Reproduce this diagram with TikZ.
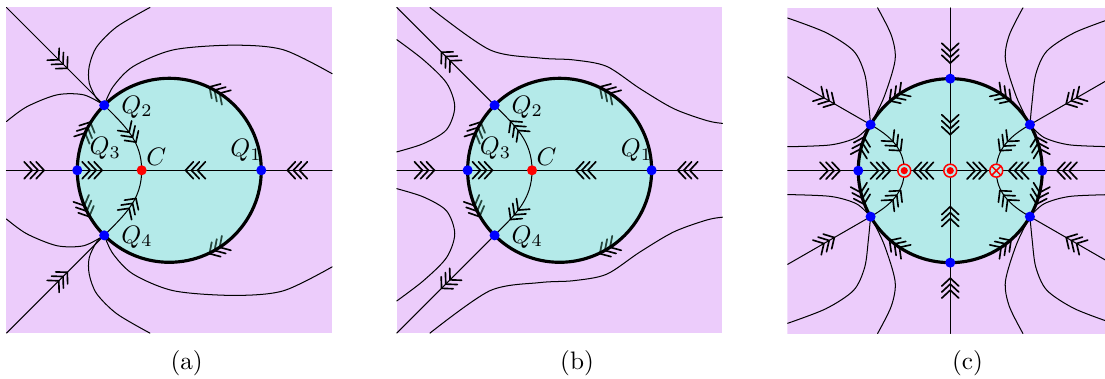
\documentclass[tikz,border=0pt]{standalone}
\usepackage{amsmath,amssymb}
\usepackage{tikz}
\usetikzlibrary{arrows.meta,calc,decorations.markings}

\definecolor{bgpurple}{RGB}{236,204,251}
\definecolor{disccyan}{RGB}{143,254,222}

% three stacked barbs, pointing along the path
\newcommand{\chevs}{%
  \draw[line width=.65pt,line cap=round,line join=miter]
    (0.29mm,1.18mm) -- (1.39mm,0) -- (0.29mm,-1.18mm)
    (-0.54mm,1.18mm) -- (0.56mm,0) -- (-0.54mm,-1.18mm)
    (-1.38mm,1.18mm) -- (-0.28mm,0) -- (-1.38mm,-1.18mm);}

% rim barbs of (a) and (b), seen through the disc
\newcommand{\rimflow}{%
  \path[flow=0.43] (Q1) arc[start angle=0,end angle=135,radius=1];
  \path[flow=0.43] (Q1) arc[start angle=0,end angle=-135,radius=1];
  \path[flow=0.56] (Q3) arc[start angle=180,end angle=135,radius=1];
  \path[flow=0.53] (Q3) arc[start angle=180,end angle=225,radius=1];}

\begin{document}
\begin{tikzpicture}[x=1.28cm,y=1.28cm,line cap=round,line join=round,
    orbit/.style={line width=.4pt},
    rim/.style={line width=1.25pt},
    flow/.style={postaction={decorate,decoration={markings,
      mark=at position #1 with {\chevs}}}},
    disc/.style={fill=disccyan,fill opacity=.6}]
  \useasboundingbox (0,0) rectangle (12.011,4.109);

  % (a): everything outside runs into Q2 and Q4.
  \begin{scope}[shift={(1.840,2.258)}]
    \fill[bgpurple] (-1.77,-1.77) rectangle (1.77,1.77);
    \coordinate (Q1) at (1,0);
    \coordinate (Q2) at (135:1);
    \coordinate (Q3) at (-1,0);
    \coordinate (Q4) at (225:1);
    \coordinate (C) at (-0.3,0);
    \foreach \s in {1,-1} {
      \begin{scope}[yscale=\s]
        \draw[orbit] plot[smooth] coordinates {(-0.21,1.77) (-0.57,1.56)
          (-0.79,1.34) (-0.87,1.13) (-0.87,0.95) (-0.79,0.78) (135:1)};
        \draw[orbit] plot[smooth] coordinates {(1.77,1.05) (1.24,1.31)
          (0.70,1.36) (0.05,1.31) (-0.39,1.13) (-0.61,0.91) (135:1)};
        \draw[orbit] plot[smooth] coordinates {(-1.77,0.53) (-1.55,0.69)
          (-1.22,0.82) (-0.93,0.82) (135:1)};
        \draw[orbit,flow=0.55] (-1.77,1.77) -- (135:1);
      \end{scope}}
    \draw[orbit,flow=0.39] (-1.77,0) -- (Q3);
    \draw[orbit,flow=0.49] (1.77,0) -- (Q1);
    % the rim, its barbs lie under the disc
    \rimflow
    \fill[disc] (0,0) circle (1);
    \begin{scope}[draw opacity=.55]
      \clip (0,0) circle (1);
      \rimflow
    \end{scope}
    \draw[rim] (0,0) circle (1);
    \draw[orbit,flow=0.23] (Q3) -- (C);
    \draw[orbit,flow=0.55] (Q1) -- (C);
    \draw[orbit,flow=0.5] (Q2) to[out=-45,in=90] (C);
    \draw[orbit,flow=0.5] (Q4) to[out=45,in=-90] (C);
    \foreach \p in {Q1,Q2,Q3,Q4} \fill[blue] (\p) circle (0.7mm);
    \fill[red] (C) circle (0.7mm);
    \node (aQ1) at (0.835,0.217) {$Q_1$};
    \node (aQ2) at (-0.351,0.688) {$Q_2$};
    \node (aQ3) at (-0.696,0.239) {$Q_3$};
    \node (aQ4) at (-0.351,-0.725) {$Q_4$};
    \node (aC) at (-0.141,0.141) {$C$};
  \end{scope}
  \node (capa) at (2.029,0.160) {(a)};

  % (b): the diagonals now leave Q2 and Q4.
  \begin{scope}[shift={(6.083,2.258)}]
    \fill[bgpurple] (-1.77,-1.77) rectangle (1.77,1.77);
    \coordinate (Q1) at (1,0);
    \coordinate (Q2) at (135:1);
    \coordinate (Q3) at (-1,0);
    \coordinate (Q4) at (225:1);
    \coordinate (C) at (-0.3,0);
    \foreach \s in {1,-1} {
      \begin{scope}[yscale=\s]
        \draw[orbit] plot[smooth] coordinates {(-1.41,1.77) (-0.76,1.31)
          (-0.21,1.22) (0.15,1.20) (0.51,1.13) (0.87,0.89) (1.24,0.67)
          (1.60,0.54) (1.77,0.51)};
        \draw[orbit] plot[smooth] coordinates {(-1.77,1.42) (-1.48,1.20)
          (-1.23,0.95) (-1.14,0.69) (-1.23,0.44) (-1.48,0.29) (-1.77,0.20)};
        \draw[orbit,flow=0.47] (135:1) -- (-1.77,1.77);
      \end{scope}}
    \draw[orbit,flow=0.39] (-1.77,0) -- (Q3);
    \draw[orbit,flow=0.49] (1.77,0) -- (Q1);
    \rimflow
    \fill[disc] (0,0) circle (1);
    \begin{scope}[draw opacity=.55]
      \clip (0,0) circle (1);
      \rimflow
    \end{scope}
    \draw[rim] (0,0) circle (1);
    \draw[orbit,flow=0.23] (Q3) -- (C);
    \draw[orbit,flow=0.55] (Q1) -- (C);
    \draw[orbit,flow=0.58] (C) to[out=90,in=-45] (Q2);
    \draw[orbit,flow=0.58] (C) to[out=-90,in=45] (Q4);
    \foreach \p in {Q1,Q2,Q3,Q4} \fill[blue] (\p) circle (0.7mm);
    \fill[red] (C) circle (0.7mm);
    \node (bQ1) at (0.835,0.217) {$Q_1$};
    \node (bQ2) at (-0.351,0.688) {$Q_2$};
    \node (bQ3) at (-0.696,0.239) {$Q_3$};
    \node (bQ4) at (-0.351,-0.725) {$Q_4$};
    \node (bC) at (-0.141,0.141) {$C$};
  \end{scope}
  \node (capb) at (6.272,0.160) {(b)};

  % (c): eight rim points, three centres on the axis.
  \begin{scope}[shift={(10.329,2.254)}]
    \clip (-1.77,-1.77) rectangle (1.682,1.77);
    \fill[bgpurple] (-1.77,-1.77) rectangle (1.77,1.77);
    \foreach \a in {0,30,90,150,180,210,270,330}
      \coordinate (P\a) at (\a:1);
    \coordinate (O) at (0,0);
    \coordinate (Rl) at (-0.5,0);
    \coordinate (Rr) at (0.5,0);
    % outer orbits, mirrored round both axes
    \foreach \sx in {1,-1} \foreach \sy in {1,-1} {
      \begin{scope}[xscale=\sx,yscale=\sy]
        \draw[orbit] plot[smooth] coordinates {(-0.79,1.77) (-0.64,1.47)
          (-0.60,1.20) (-0.72,0.80) (150:1)};
        \draw[orbit] plot[smooth] coordinates {(-1.77,1.66) (-1.35,1.50)
          (-1.05,1.30) (-0.93,1.05) (-0.89,0.75) (150:1)};
        \draw[orbit] plot[smooth] coordinates {(-1.77,0.26) (-1.30,0.28)
          (-1.02,0.36) (150:1)};
        \draw[orbit,flow=0.46] (-1.77,1.02) -- (150:1);
      \end{scope}}
    \draw[orbit,flow=0.6] (-1.77,0) -- (P180);
    \draw[orbit,flow=0.65] (1.77,0) -- (P0);
    \draw[orbit,flow=0.64] (0,1.77) -- (P90);
    \draw[orbit,flow=0.64] (0,-1.77) -- (P270);
    \fill[disc] (O) circle (1);
    \draw[rim] (O) circle (1);
    \path[flow=0.58] (P90) arc[start angle=90,end angle=150,radius=1];
    \path[flow=0.58] (P90) arc[start angle=90,end angle=30,radius=1];
    \path[flow=0.58] (P270) arc[start angle=270,end angle=210,radius=1];
    \path[flow=0.58] (P270) arc[start angle=270,end angle=330,radius=1];
    \path[flow=0.5] (P180) arc[start angle=180,end angle=150,radius=1];
    \path[flow=0.5] (P180) arc[start angle=180,end angle=210,radius=1];
    \path[flow=0.5] (P0) arc[start angle=0,end angle=30,radius=1];
    \path[flow=0.5] (P0) arc[start angle=0,end angle=-30,radius=1];
    % inside the disc
    \draw[orbit,flow=0.48] (P180) -- (Rl);
    \draw[orbit,flow=0.58] (O) -- (Rl);
    \draw[orbit,flow=0.58] (O) -- (Rr);
    \draw[orbit,flow=0.51] (P0) -- (Rr);
    \draw[orbit,flow=0.5] (P90) -- (O);
    \draw[orbit,flow=0.5] (P270) -- (O);
    \draw[orbit,flow=0.5] (P150) to[out=-30,in=90] (Rl);
    \draw[orbit,flow=0.5] (P210) to[out=30,in=-90] (Rl);
    \draw[orbit,flow=0.5] (P30) to[out=210,in=90] (Rr);
    \draw[orbit,flow=0.5] (P330) to[out=150,in=-90] (Rr);
    \foreach \a in {0,30,90,150,180,210,270,330}
      \fill[blue] (P\a) circle (0.7mm);
    \foreach \p in {Rl,O} {
      \draw[red,line width=.6pt,fill=disccyan!60!bgpurple] (\p) circle (0.9mm);
      \fill[red] (\p) circle (0.5mm);}
    \draw[red,line width=.6pt,fill=disccyan!60!bgpurple] (Rr) circle (0.9mm);
    \draw[red,line width=.6pt] ($(Rr)+(45:0.9mm)$) -- ($(Rr)+(225:0.9mm)$)
      ($(Rr)+(135:0.9mm)$) -- ($(Rr)+(315:0.9mm)$);
  \end{scope}
  \node (capc) at (10.516,0.160) {(c)};
\end{tikzpicture}
\end{document}
